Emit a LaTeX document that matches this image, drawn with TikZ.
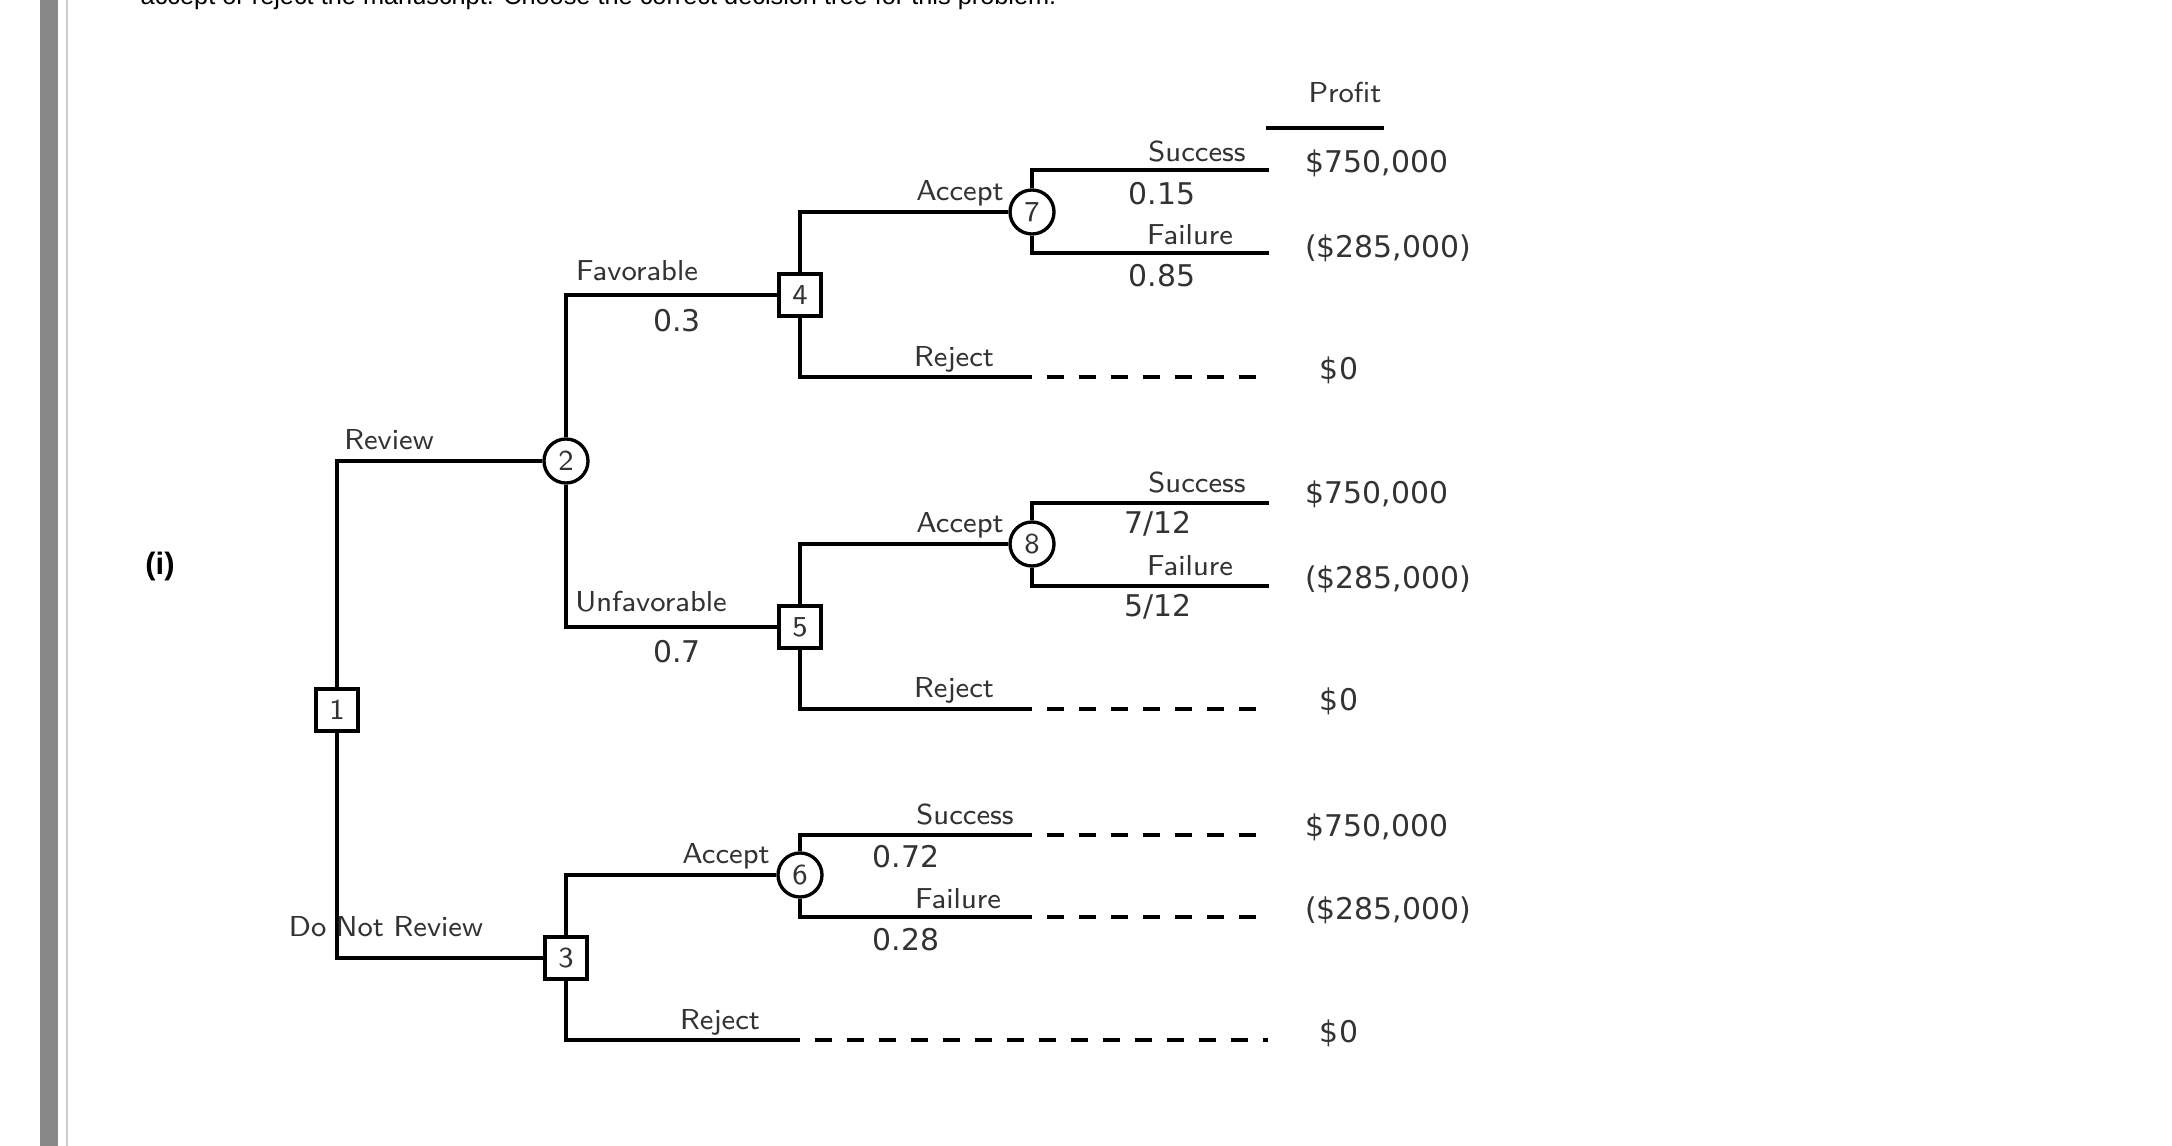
\documentclass[tikz,border=0pt]{standalone}
\usepackage{fontspec}
\newfontfamily\numf{DejaVu Sans}
\newfontfamily\arialf{Liberation Sans}
\definecolor{barGray}{HTML}{888888}
\definecolor{lineGray}{HTML}{CCCCCC}
\definecolor{txt}{HTML}{333333}
\begin{document}
\begin{tikzpicture}[x=0.01cm,y=-0.01cm,
  br/.style={line width=0.95pt},
  dsh/.style={line width=0.95pt, dash pattern=on 0.17cm off 0.15cm, dash phase=0.17cm},
  dec/.style={draw, rectangle, minimum width=0.42cm, minimum height=0.42cm, inner sep=0pt, fill=white, line width=0.95pt, text=txt, font=\sffamily\fontsize{8.2}{9}\selectfont},
  chn/.style={draw, circle, minimum size=0.44cm, inner sep=0pt, fill=white, line width=0.95pt, text=txt, font=\sffamily\fontsize{8.2}{9}\selectfont},
  lbl/.style={inner sep=0pt, text=txt, font=\sffamily\fontsize{8.2}{9}\selectfont},
  num/.style={inner sep=0pt, text=txt, font=\numf\fontsize{8.5}{10}\selectfont}
]
\useasboundingbox (0,0) rectangle (2172,1146);
\fill[white] (0,0) rectangle (2172,1146);
\fill[barGray] (40,0) rectangle (58,1146);
\fill[lineGray] (66,0) rectangle (68,1146);
\begin{scope}
\clip (0,0) rectangle (2172,1146);
\node[anchor=base west, inner sep=0pt, font=\arialf\fontsize{7.2}{8}\selectfont] (toptext) at (140,5) {accept or reject the manuscript. Choose the correct decision tree for this problem.};
\end{scope}
\node[inner sep=0pt, font=\arialf\bfseries\fontsize{8.8}{10}\selectfont] (part) at (160,567) {(i)};

% decision and chance nodes
\node[dec] (n1) at (337,710) {1};
\node[chn] (n2) at (566,461) {2};
\node[dec] (n3) at (566,958) {3};
\node[dec] (n4) at (800,295) {4};
\node[dec] (n5) at (800,627) {5};
\node[chn] (n6) at (800,875) {6};
\node[chn] (n7) at (1032,212) {7};
\node[chn] (n8) at (1032,544) {8};

% end points
\coordinate (s7) at (1269,170);
\coordinate (f7) at (1269,253);
\coordinate (r4) at (1032,377);
\coordinate (r4e) at (1256,377);
\coordinate (s8) at (1269,503);
\coordinate (f8) at (1269,586);
\coordinate (r5) at (1032,709);
\coordinate (r5e) at (1256,709);
\coordinate (s6) at (1032,835);
\coordinate (s6e) at (1256,835);
\coordinate (f6) at (1032,917);
\coordinate (f6e) at (1256,917);
\coordinate (r3) at (800,1040);
\coordinate (r3e) at (1268,1040);
\coordinate (pu1) at (1266,128);
\coordinate (pu2) at (1384,128);

% connectors
\draw[br] (n1) |- (n2);
\draw[br] (n1) |- (n3);
\draw[br] (n2) |- (n4);
\draw[br] (n2) |- (n5);
\draw[br] (n4) |- (n7);
\draw[br] (n4) |- (r4);
\draw[dsh] (r4) -- (r4e);
\draw[br] (n7) |- (s7);
\draw[br] (n7) |- (f7);
\draw[br] (n5) |- (n8);
\draw[br] (n5) |- (r5);
\draw[dsh] (r5) -- (r5e);
\draw[br] (n8) |- (s8);
\draw[br] (n8) |- (f8);
\draw[br] (n3) |- (n6);
\draw[br] (n3) |- (r3);
\draw[dsh] (r3) -- (r3e);
\draw[br] (n6) |- (s6);
\draw[dsh] (s6) -- (s6e);
\draw[br] (n6) |- (f6);
\draw[dsh] (f6) -- (f6e);
\draw[br] (pu1) -- (pu2);

% labels
\node[lbl] (lprofit) at (1345,93) {Profit};
\node[lbl] (lrev) at (389,440) {Review};
\node[lbl] (ldnr) at (386,927) {Do\,\,Not\,\,Review};
\node[lbl] (lfav) at (637,271) {Favorable};
\node[num] (p03) at (677,321) {0.3};
\node[lbl] (lunf) at (651,602) {Unfavorable};
\node[num] (p07) at (677,652) {0.7};
\node[lbl] (lacc7) at (960,193) {Accept};
\node[lbl] (lrej4) at (954,359) {Reject};
\node[lbl] (lacc8) at (960,525) {Accept};
\node[lbl] (lrej5) at (954,690) {Reject};
\node[lbl] (lacc6) at (726,856) {Accept};
\node[lbl] (lrej3) at (720,1022) {Reject};

\node[lbl] (lsuc7) at (1197,151) {Success};
\node[num] (p015) at (1162,194) {0.15};
\node[lbl] (lfai7) at (1190,235) {Failure};
\node[num] (p085) at (1162,276) {0.85};
\node[lbl] (lsuc8) at (1197,482) {Success};
\node[num] (p712) at (1158,524) {7/12};
\node[lbl] (lfai8) at (1190,566) {Failure};
\node[num] (p512) at (1158,607) {5/12};
\node[lbl] (lsuc6) at (965,814) {Success};
\node[num] (p072) at (906,857) {0.72};
\node[lbl] (lfai6) at (958,899) {Failure};
\node[num] (p028) at (906,940) {0.28};

\node[num] (v1) at (1377,163) {\$750,000};
\node[num] (v2) at (1388,248) {(\$285,000)};
\node[num] (v3) at (1339,370) {\$0};
\node[num] (v4) at (1377,494) {\$750,000};
\node[num] (v5) at (1388,579) {(\$285,000)};
\node[num] (v6) at (1339,701) {\$0};
\node[num] (v7) at (1377,827) {\$750,000};
\node[num] (v8) at (1388,910) {(\$285,000)};
\node[num] (v9) at (1339,1033) {\$0};
\end{tikzpicture}
\end{document}
